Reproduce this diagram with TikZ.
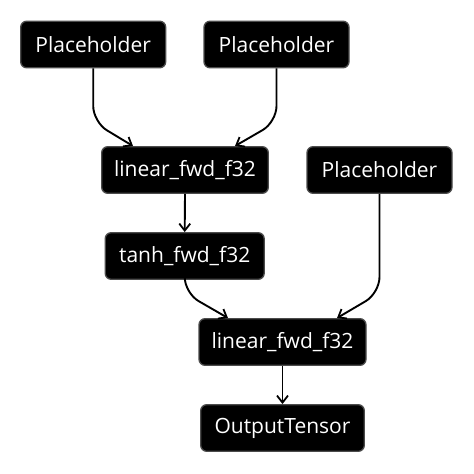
\documentclass[tikz,border=0pt]{standalone}
\usepackage{fontspec}
\setmainfont{Open Sans}
\usetikzlibrary{arrows.meta}
\begin{document}
\begin{tikzpicture}[x=1pt,y=-1pt,
  op/.style={draw=black!70, line width=1.3pt, fill=black, rounded corners=6pt,
    text=white, font=\fontsize{21}{25}\selectfont, inner sep=0pt,
    minimum height=46.6pt},
  flow/.style={line width=1.9pt, rounded corners=16pt,
    -{Straight Barb[length=7pt,width=11pt,line width=1.8pt]}},
]
\useasboundingbox (0,0) rectangle (474,474);
% operation nodes
\node[op, minimum width=145pt] (ph1) at (93.2,44.5) {Placeholder};
\node[op, minimum width=145pt] (ph2) at (276.5,44.5) {Placeholder};
\node[op, minimum width=166.6pt] (lin1) at (185,170) {linear\_fwd\_f32};
\node[op, minimum width=145pt] (ph3) at (379.5,170) {Placeholder};
\node[op, minimum width=159pt] (tanh) at (184.7,256) {tanh\_fwd\_f32};
\node[op, minimum width=167pt] (lin2) at (282.5,342) {linear\_fwd\_f32};
\node[op, minimum width=163.6pt] (out) at (282.5,428) {OutputTensor};
% connectors: straight drop, a rounded bend, then a slanted run into the target
\draw[flow] (ph1.south) -- ([yshift=24pt]ph1.south |- lin1.north)
  -- ([xshift=-52pt]lin1.north);
\draw[flow] (ph2.south) -- ([yshift=24pt]ph2.south |- lin1.north)
  -- ([xshift=50pt]lin1.north);
\draw[flow] (lin1.south) -- (tanh.north);
\draw[flow] (tanh.south) -- ([yshift=25pt]tanh.south |- lin2.north)
  -- ([xshift=-54.5pt]lin2.north);
\draw[flow] (ph3.south) -- ([yshift=25pt]ph3.south |- lin2.north)
  -- ([xshift=54.5pt]lin2.north);
\draw[flow] (lin2.south) -- (out.north);
\end{tikzpicture}
\end{document}
